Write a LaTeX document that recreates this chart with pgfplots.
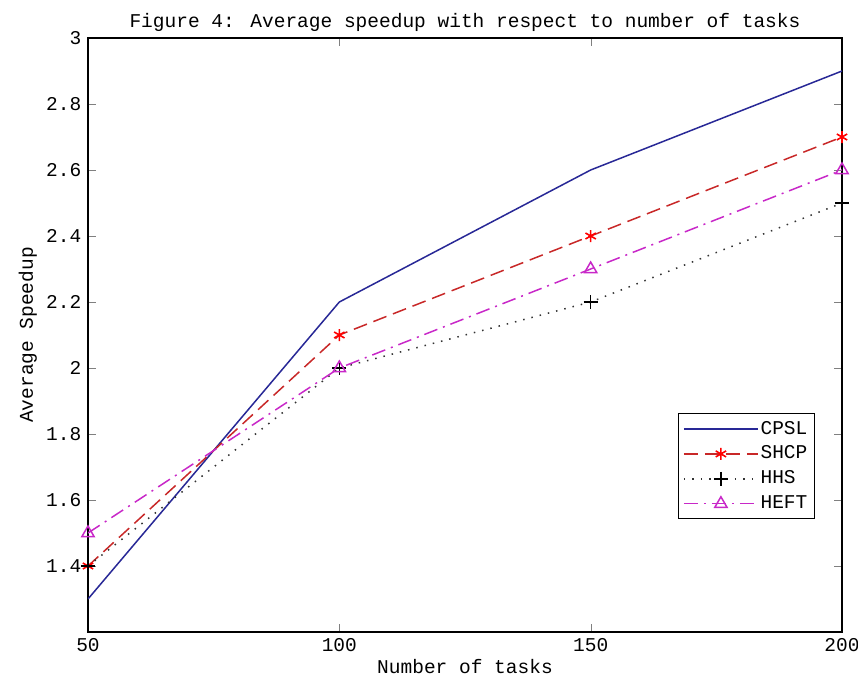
\documentclass[border=0pt]{standalone}
\usepackage{pgfplots}
\pgfplotsset{compat=1.18}
\usepackage{fontspec}
\setmainfont{Liberation Mono}
\begin{document}
\fontsize{19.5pt}{22pt}\selectfont
\begin{tikzpicture}
\useasboundingbox (-88pt,-65pt) rectangle (770pt,632pt);
\begin{axis}[
  at={(0pt,0pt)}, anchor=south west,
  scale only axis,
  width=754pt, height=594pt,
  xmin=50, xmax=200, ymin=1.2, ymax=3,
  xtick={50,100,150,200},
  ytick={1.4,1.6,1.8,2,2.2,2.4,2.6,2.8,3},
  yticklabels={1.4,1.6,1.8,2,2.2,2.4,2.6,2.8,3},
  tick align=inside, tick pos=both,
  major tick length=8pt,
  /pgf/number format/assume math mode=true,
  tick label style={font=\fontsize{19.5pt}{22pt}\selectfont},
  label style={font=\fontsize{19.5pt}{22pt}\selectfont},
  title style={font=\fontsize{19.5pt}{22pt}\selectfont, yshift=-6pt},
  title={Figure 4: Average speedup with respect to number of tasks},
  xlabel={Number of tasks},
  ylabel={Average Speedup},
  xlabel style={yshift=6pt},
  ylabel style={yshift=-4pt},
  axis line style={line width=1.2pt},
  legend style={at={(0.964,0.19)}, anchor=south east, draw=black, line width=1pt,
    font=\fontsize{19.5pt}{22pt}\selectfont, row sep=5pt, inner sep=5pt},
  legend cell align=left,
  legend image post style={line width=1.3pt},
  legend image code/.code={\draw[mark repeat=2,mark phase=2] plot coordinates {(0pt,0pt) (37pt,0pt) (74pt,0pt)};},
]
\addplot[color={rgb,255:red,40;green,40;blue,150}, line width=1.5pt, mark=none] coordinates {(50,1.3) (100,2.2) (150,2.6) (200,2.9)};
\addlegendentry{CPSL}
\addplot[color={rgb,255:red,200;green,40;blue,40}, line width=1.5pt, dash pattern=on 14pt off 7pt, mark=asterisk, mark size=6pt, mark options={solid, red, line width=1.6pt}] coordinates {(50,1.4) (100,2.1) (150,2.4) (200,2.7)};
\addlegendentry{SHCP}
\addplot[color=black!80, line width=1.5pt, dash pattern=on 1.5pt off 7pt, mark=+, mark size=7pt, mark options={solid, black, line width=1.6pt}] coordinates {(50,1.4) (100,2.0) (150,2.2) (200,2.5)};
\addlegendentry{HHS}
\addplot[color={rgb,255:red,200;green,40;blue,200}, line width=1.5pt, dash pattern=on 14pt off 6pt on 2pt off 6pt, mark=triangle, mark size=7pt, mark options={solid, line width=1.5pt}] coordinates {(50,1.5) (100,2.0) (150,2.3) (200,2.6)};
\addlegendentry{HEFT}
\end{axis}
\end{tikzpicture}
\end{document}
